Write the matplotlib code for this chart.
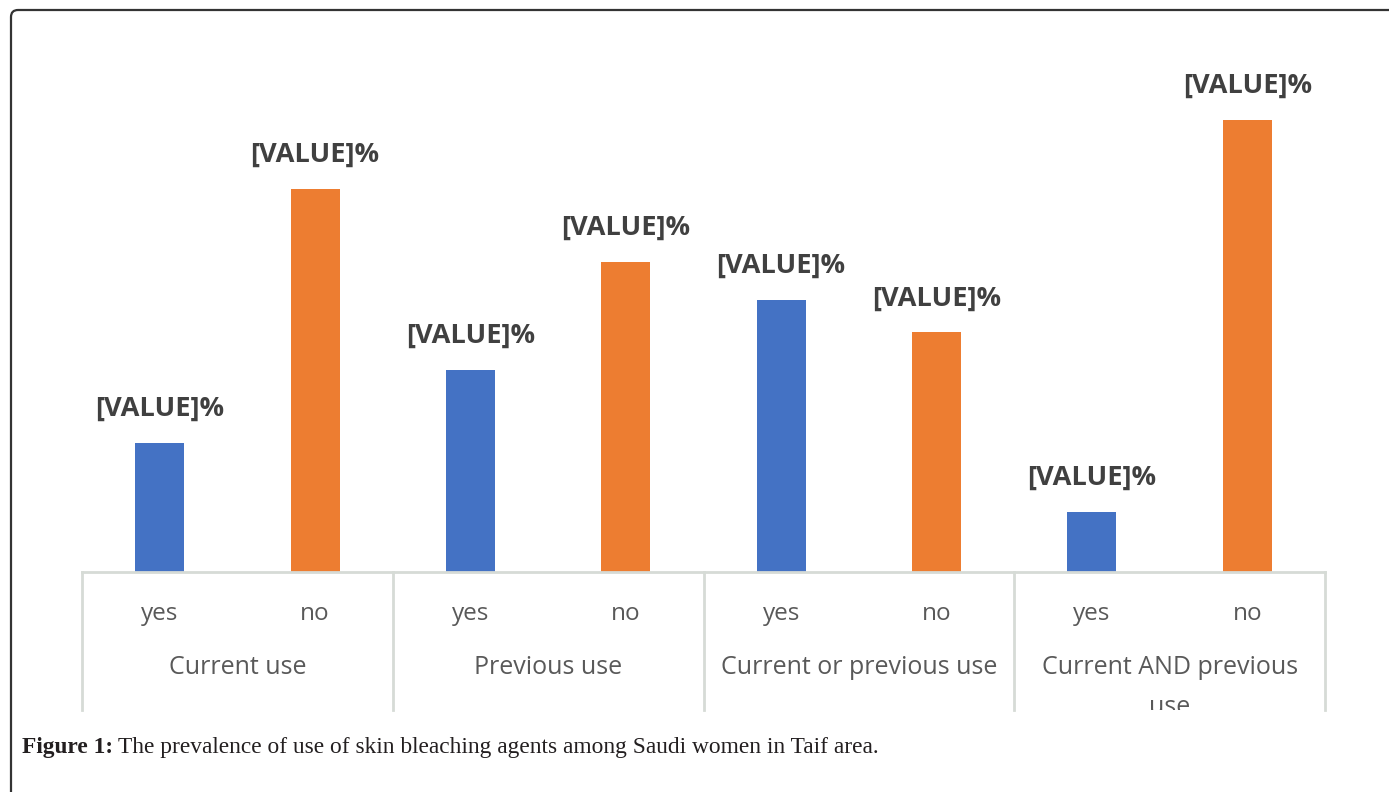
import matplotlib.pyplot as plt
from matplotlib.patches import PathPatch
from matplotlib.path import Path
from matplotlib.lines import Line2D
from matplotlib.transforms import blended_transform_factory, Bbox, TransformedBbox

groups = ['Current use', 'Previous use', 'Current or previous use', 'Current AND previous\nuse']
answers = ['yes', 'no']
yes_pct = [25.2, 39.5, 53.2, 11.7]
no_pct = [74.8, 60.5, 46.8, 88.3]
value_label = '[VALUE]%'
caption_bold = 'Figure 1:'
caption_text = 'The prevalence of use of skin bleaching agents among Saudi women in Taif area.'

W, H = 1389, 792
fig = plt.figure(figsize=(W / 100, H / 100), dpi=100)

def fy(py):
    # pixel row (from top) -> figure fraction
    return 1 - py / H

# plot area: baseline at pixel row 572, category axis from x=82 to x=1325
ax = fig.add_axes([82 / W, fy(572), (1325 - 82) / W, (572 - 10) / H])
ax.set_xlim(-0.5, 7.5)
ax.set_ylim(0, 562 / 5.12)
ax.axis('off')

vals, cols = [], []
for y, n in zip(yes_pct, no_pct):
    vals += [y, n]
    cols += ['#4472C4', '#ED7D31']
xs = range(len(vals))
ax.bar(xs, vals, width=0.315, color=cols)
for x, v in zip(xs, vals):
    ax.annotate(value_label, (x, v), xytext=(0, 34), textcoords='offset pixels',
                ha='center', va='center', fontsize=19.6, fontweight='bold',
                color='#404040', family='Open Sans')

tr = blended_transform_factory(ax.transData, fig.transFigure)
line_c = '#d6dbd6'
fig.add_artist(Line2D([-0.5, 7.5], [fy(572), fy(572)], transform=tr, color=line_c, lw=2))
for b in [-0.5, 1.5, 3.5, 5.5, 7.5]:
    fig.add_artist(Line2D([b, b], [fy(572), fy(710)], transform=tr, color=line_c, lw=2))

for i in range(len(vals)):
    fig.text(i, fy(614), answers[i % 2], transform=tr, ha='center', va='center',
             fontsize=17.5, color='#595959', family='Open Sans')

# group labels; wrapped lines are clipped at the bottom of the chart area
clip = TransformedBbox(Bbox([[0, fy(710)], [1, 1]]), fig.transFigure)
for g, name in enumerate(groups):
    for k, part in enumerate(name.split('\n')):
        t = fig.text(2 * g + 0.5, fy(667 + 40 * k), part, transform=tr, ha='center',
                     va='center', fontsize=18, color='#595959', family='Open Sans')
        t.set_clip_box(clip)
        t.set_clip_on(True)

# caption
cb = fig.text(22 / W, fy(748), caption_bold, ha='left', va='center', fontsize=16.8,
              fontweight='bold', family='Liberation Serif', color='#231f20')
fig.canvas.draw()
bb = cb.get_window_extent()
fig.text((bb.x1 + 5) / W, fy(748), caption_text, ha='left', va='center', fontsize=16.8,
         family='Liberation Serif', color='#231f20')

# open frame with a rounded top-left corner
frame = Path([(11 / W, 0), (11 / W, fy(17)), (11 / W, fy(10)), (18 / W, fy(10)), (1, fy(10))],
             [Path.MOVETO, Path.LINETO, Path.CURVE3, Path.CURVE3, Path.LINETO])
fig.add_artist(PathPatch(frame, transform=fig.transFigure, fill=False, ec='#333333', lw=1.6))

fig.savefig('out.png', dpi=100)
